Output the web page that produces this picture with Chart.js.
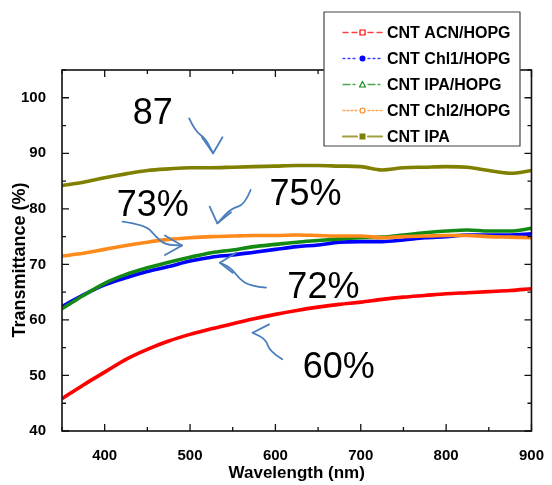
<!DOCTYPE html>
<html>
<head>
<meta charset="utf-8">
<script src="https://cdn.jsdelivr.net/npm/chart.js@4.4.1/dist/chart.umd.min.js"></script>
<style>
  body { margin: 0; background: #fff; }
  canvas { display: block; }
</style>
</head>
<body>
<canvas id="transChart" width="552" height="485"></canvas>
<script>
// Transmittance spectra (nm -> %)
const wavelengths = [350, 375, 400, 425, 450, 475, 500, 525, 550, 575, 600, 625,
                     650, 675, 700, 725, 750, 775, 800, 825, 850, 875, 900];
const acnHopg  = [45.8, 48.3, 50.6, 52.9, 54.7, 56.2, 57.4, 58.4, 59.3, 60.2, 61.0, 61.7,
                  62.3, 62.8, 63.2, 63.7, 64.1, 64.4, 64.7, 64.9, 65.1, 65.3, 65.6];
const chl1Hopg = [62.4, 64.5, 66.3, 67.6, 68.7, 69.6, 70.6, 71.3, 71.7, 72.2, 72.7, 73.2,
                  73.5, 74.0, 74.1, 74.1, 74.4, 74.8, 75.0, 75.3, 75.3, 75.3, 75.5];
const ipaHopg  = [62.0, 64.4, 66.6, 68.2, 69.4, 70.4, 71.3, 72.1, 72.6, 73.2, 73.6, 74.0,
                  74.3, 74.6, 74.8, 74.9, 75.3, 75.7, 76.0, 76.2, 76.0, 76.0, 76.5];
const chl2Hopg = [71.5, 72.0, 72.7, 73.4, 74.0, 74.5, 74.8, 75.0, 75.1, 75.2, 75.2, 75.3,
                  75.2, 75.1, 75.1, 74.8, 75.0, 75.1, 75.2, 75.2, 75.0, 74.9, 74.8];
const cntIpa   = [84.2, 84.8, 85.6, 86.3, 86.9, 87.2, 87.4, 87.4, 87.5, 87.6, 87.7, 87.8,
                  87.8, 87.7, 87.6, 87.0, 87.4, 87.5, 87.6, 87.5, 86.9, 86.4, 86.9];

const seriesNames = ['CNT ACN/HOPG', 'CNT Chl1/HOPG', 'CNT IPA/HOPG', 'CNT Chl2/HOPG', 'CNT IPA'];
const seriesValues = [acnHopg, chl1Hopg, ipaHopg, chl2Hopg, cntIpa];

const xTicks = [400, 500, 600, 700, 800, 900];
const yTicks = [40, 50, 60, 70, 80, 90, 100];

// look of each series: colour, legend dash, legend marker, draw order
const seriesStyle = [
    { color: '#ff0000', dash: [5, 4],       marker: 'openSquare',   order: 3 },
    { color: '#0000ff', dash: [2, 3],       marker: 'dot',          order: 2 },
    { color: '#138a13', dash: [7, 3, 2, 3], marker: 'openTriangle', order: 1 },
    { color: '#ff8a1c', dash: [2, 2],       marker: 'openCircle',   order: 0 },
    { color: '#808000', dash: [],           marker: 'square',       order: 4 }
];

// hand-drawn call-outs, in data units (nm, %)
const callouts = [
    { text: '87',  at: [433, 95.2] },
    { text: '75%', at: [593, 80.7] },
    { text: '73%', at: [414, 78.7] },
    { text: '72%', at: [614, 64.0] },
    { text: '60%', at: [632, 49.6] }
];
const arrows = [
    { shaft: [[499, 96.3], [506, 94.0], [518, 92.7], [527, 90.0]], head: [[514, 92.9], [527, 90.0], [538, 92.9]] },
    { shaft: [[571, 83.4], [564, 80.7], [548, 80.1], [532, 77.4]], head: [[523, 80.4], [532, 77.4], [548, 79.4]] },
    { shaft: [[421, 77.7], [448, 77.1], [460, 75.0], [471, 73.5], [490.6, 73.4]], head: [[470.6, 75.2], [490.6, 73.4], [470.6, 71.7]] },
    { shaft: [[589, 65.8], [571, 66.1], [558, 67.3], [548, 69.4], [535, 70.3]], head: [[554, 72.1], [535, 70.3], [550, 68.5]] },
    { shaft: [[608, 52.9], [593, 54.4], [589, 56.5], [573.3, 57.7]], head: [[592.6, 59.2], [573.3, 57.7]] }
];

const datasets = seriesNames.map((name, i) => ({
    label: name,
    data: wavelengths.map((w, j) => ({ x: w, y: seriesValues[i][j] })),
    borderColor: seriesStyle[i].color,
    backgroundColor: seriesStyle[i].color,
    borderWidth: 3.6,
    pointRadius: 0,
    cubicInterpolationMode: 'monotone',
    order: seriesStyle[i].order
}));

function drawMarker(ctx, type, x, y, color) {
    ctx.save();
    ctx.setLineDash([]);
    ctx.lineWidth = 1.2;
    ctx.strokeStyle = color;
    ctx.fillStyle = color;
    ctx.beginPath();
    if (type === 'openSquare') {
        ctx.fillStyle = '#fff';
        ctx.rect(x - 2.5, y - 2.5, 5, 5);
        ctx.fill(); ctx.stroke();
    } else if (type === 'dot') {
        ctx.arc(x, y, 3, 0, Math.PI * 2);
        ctx.fill();
    } else if (type === 'openTriangle') {
        ctx.fillStyle = '#fff';
        ctx.moveTo(x, y - 3); ctx.lineTo(x + 3, y + 2.5); ctx.lineTo(x - 3, y + 2.5); ctx.closePath();
        ctx.fill(); ctx.stroke();
    } else if (type === 'openCircle') {
        ctx.fillStyle = '#fff';
        ctx.arc(x, y, 2.5, 0, Math.PI * 2);
        ctx.fill(); ctx.stroke();
    } else {
        ctx.rect(x - 3, y - 3, 6, 6);
        ctx.fill();
    }
    ctx.restore();
}

function smoothPath(ctx, pts) {
    ctx.beginPath();
    ctx.moveTo(pts[0][0], pts[0][1]);
    for (let i = 1; i < pts.length - 1; i++) {
        const mx = (pts[i][0] + pts[i + 1][0]) / 2;
        const my = (pts[i][1] + pts[i + 1][1]) / 2;
        ctx.quadraticCurveTo(pts[i][0], pts[i][1], mx, my);
    }
    const last = pts[pts.length - 1];
    ctx.lineTo(last[0], last[1]);
    ctx.stroke();
}

const decorPlugin = {
    id: 'decor',
    afterDraw(chart) {
        const ctx = chart.ctx;
        const xs = chart.scales.x;
        const ys = chart.scales.y;
        const a = chart.chartArea;
        const px = p => [xs.getPixelForValue(p[0]), ys.getPixelForValue(p[1])];
        ctx.save();

        // frame with inward ticks on all four sides
        ctx.strokeStyle = '#111';
        ctx.lineWidth = 1.6;
        ctx.strokeRect(a.left, a.top, a.right - a.left, a.bottom - a.top);
        ctx.lineWidth = 1.3;
        ctx.beginPath();
        xTicks.forEach(v => {
            const x = xs.getPixelForValue(v);
            const xm = xs.getPixelForValue(v - 50);
            ctx.moveTo(x, a.bottom); ctx.lineTo(x, a.bottom - 7);
            ctx.moveTo(x, a.top); ctx.lineTo(x, a.top + 7);
            ctx.moveTo(xm, a.bottom); ctx.lineTo(xm, a.bottom - 4);
            ctx.moveTo(xm, a.top); ctx.lineTo(xm, a.top + 4);
        });
        yTicks.forEach(v => {
            const y = ys.getPixelForValue(v);
            const ym = ys.getPixelForValue(v + 5);
            ctx.moveTo(a.left, y); ctx.lineTo(a.left + 7, y);
            ctx.moveTo(a.right, y); ctx.lineTo(a.right - 7, y);
            ctx.moveTo(a.left, ym); ctx.lineTo(a.left + 4, ym);
            ctx.moveTo(a.right, ym); ctx.lineTo(a.right - 4, ym);
        });
        ctx.stroke();

        // axis titles
        ctx.fillStyle = '#000';
        ctx.font = 'bold 17px "Liberation Sans", Arial, sans-serif';
        ctx.textAlign = 'center';
        ctx.textBaseline = 'middle';
        ctx.fillText('Wavelength (nm)', (a.left + a.right) / 2, 473);
        ctx.save();
        ctx.translate(20, 260);
        ctx.rotate(-Math.PI / 2);
        ctx.font = 'bold 18px "Liberation Sans", Arial, sans-serif';
        ctx.fillText('Transmittance (%)', 0, 0);
        ctx.restore();

        // call-out text and arrows
        ctx.font = '36px "Liberation Sans", Arial, sans-serif';
        ctx.textAlign = 'left';
        ctx.textBaseline = 'alphabetic';
        callouts.forEach(c => {
            const p = px(c.at);
            ctx.fillText(c.text, p[0], p[1]);
        });
        ctx.strokeStyle = '#4a7ebb';
        ctx.lineWidth = 1.8;
        ctx.lineCap = 'round';
        ctx.lineJoin = 'round';
        arrows.forEach(ar => {
            smoothPath(ctx, ar.shaft.map(px));
            const h = ar.head.map(px);
            ctx.beginPath();
            ctx.moveTo(h[0][0], h[0][1]);
            for (let i = 1; i < h.length; i++) ctx.lineTo(h[i][0], h[i][1]);
            ctx.stroke();
        });

        // legend box
        const bx = 324, by = 12, bw = 196, bh = 134;
        ctx.fillStyle = '#fff';
        ctx.fillRect(bx, by, bw, bh);
        ctx.strokeStyle = '#444';
        ctx.lineWidth = 1.2;
        ctx.strokeRect(bx, by, bw, bh);
        ctx.font = 'bold 16px "Liberation Sans", Arial, sans-serif';
        ctx.textBaseline = 'middle';
        seriesNames.forEach((name, i) => {
            const y = 32.5 + i * 26;
            const st = seriesStyle[i];
            ctx.save();
            ctx.globalAlpha = 0.75;
            ctx.strokeStyle = st.color;
            ctx.lineWidth = st.marker === 'square' ? 2.2 : 1.3;
            ctx.setLineDash(st.dash);
            ctx.beginPath();
            ctx.moveTo(343, y); ctx.lineTo(357, y);
            ctx.moveTo(368, y); ctx.lineTo(382, y);
            ctx.stroke();
            ctx.restore();
            drawMarker(ctx, st.marker, 362.5, y, st.color);
            ctx.fillStyle = '#000';
            ctx.fillText(name, 387, y + 1);
        });
        ctx.restore();
    }
};

const tickFont = { family: '"Liberation Sans", Arial, sans-serif', size: 15, weight: 'bold' };

new Chart(document.getElementById('transChart'), {
    type: 'line',
    data: { datasets: datasets },
    options: {
        responsive: false,
        animation: false,
        devicePixelRatio: 1,
        layout: { padding: { top: 70, right: 14, left: 0, bottom: 0 } },
        plugins: {
            legend: { display: false },
            tooltip: { enabled: false }
        },
        scales: {
            x: {
                type: 'linear',
                min: 350,
                max: 900,
                grid: { display: false },
                border: { display: false },
                ticks: { color: '#000', font: tickFont, padding: 8, maxRotation: 0 },
                afterBuildTicks: scale => { scale.ticks = xTicks.map(v => ({ value: v })); },
                afterFit: scale => { scale.height = 54; }
            },
            y: {
                min: 40,
                max: 105,
                grid: { display: false },
                border: { display: false },
                ticks: { color: '#000', font: tickFont, padding: 8 },
                afterBuildTicks: scale => { scale.ticks = yTicks.map(v => ({ value: v })); },
                afterFit: scale => { scale.width = 62; }
            }
        }
    },
    plugins: [decorPlugin]
});
</script>
</body>
</html>
